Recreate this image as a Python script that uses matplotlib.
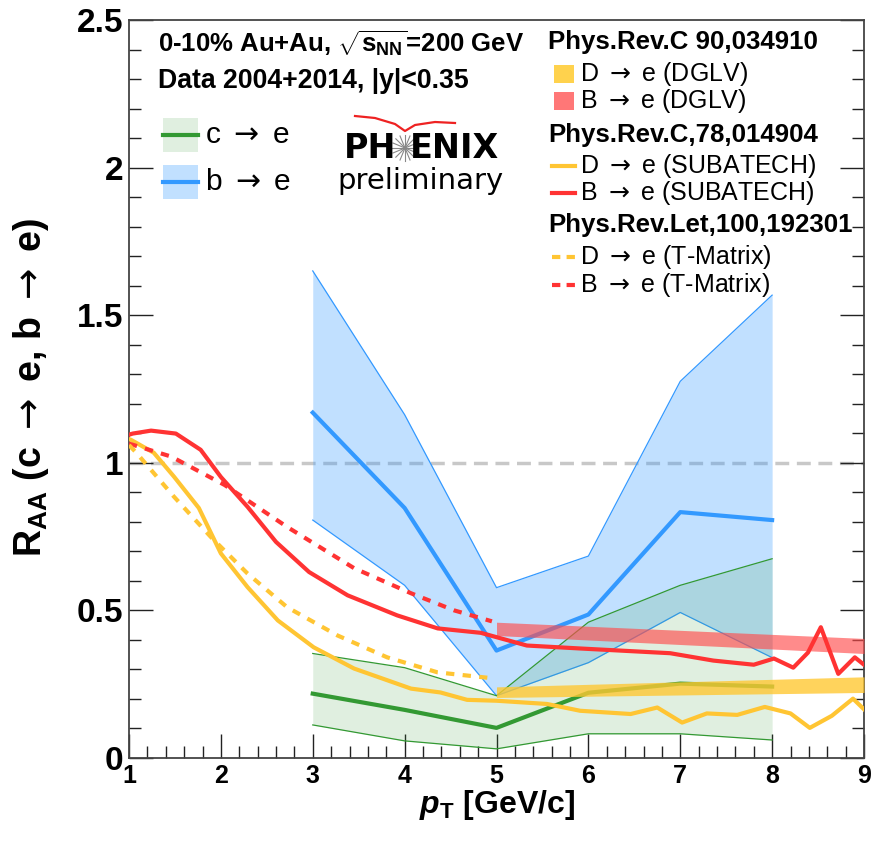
import matplotlib
matplotlib.use('Agg')
import matplotlib.pyplot as plt
import numpy as np
from matplotlib.patches import Rectangle
from matplotlib.lines import Line2D

plt.rcParams['font.family'] = ['Liberation Sans', 'DejaVu Sans']
plt.rcParams['mathtext.fontset'] = 'custom'
plt.rcParams['mathtext.rm'] = 'Liberation Sans'
plt.rcParams['mathtext.bf'] = 'Liberation Sans:bold'
plt.rcParams['mathtext.it'] = 'Liberation Sans:italic:bold'
plt.rcParams['mathtext.sf'] = 'DejaVu Sans'

ARR = r'$\mathsf{\rightarrow}$'

# unfolded data points (pT, central, upper, lower)
pt_data = [3, 4, 5, 6, 7, 8]
c_e = [0.218, 0.163, 0.102, 0.221, 0.252, 0.242]
c_e_hi = [0.354, 0.306, 0.211, 0.46, 0.585, 0.675]
c_e_lo = [0.112, 0.058, 0.031, 0.082, 0.082, 0.061]
b_e = [1.17, 0.847, 0.364, 0.486, 0.833, 0.806]
b_e_hi = [1.65, 1.163, 0.577, 0.684, 1.276, 1.568]
b_e_lo = [0.806, 0.585, 0.211, 0.323, 0.493, 0.34]

# SUBATECH
pt_sub_b = [1.0, 1.04, 1.24, 1.51, 1.78, 2.0, 2.29, 2.6, 2.96, 3.38, 3.92, 4.36, 4.83,
            5.33, 5.91, 6.89, 7.36, 7.8, 8.02, 8.23, 8.39, 8.53, 8.72, 8.9, 9.0]
raa_sub_b = [1.095, 1.099, 1.109, 1.099, 1.044, 0.952, 0.851, 0.732, 0.63, 0.551, 0.483,
             0.439, 0.424, 0.381, 0.371, 0.355, 0.33, 0.316, 0.337, 0.306, 0.357, 0.443,
             0.285, 0.341, 0.316]
pt_sub_d = [1.0, 1.02, 1.27, 1.49, 1.76, 2.0, 2.29, 2.62, 3.01, 3.45, 4.07, 4.39, 4.68,
            5.0, 5.55, 5.91, 6.46, 6.75, 7.02, 7.29, 7.62, 7.92, 8.2, 8.41, 8.65, 8.88, 9.0]
raa_sub_d = [1.08, 1.078, 1.034, 0.953, 0.847, 0.693, 0.579, 0.466, 0.375, 0.303, 0.235,
             0.222, 0.197, 0.194, 0.183, 0.16, 0.149, 0.171, 0.12, 0.151, 0.146, 0.173,
             0.151, 0.102, 0.143, 0.201, 0.165]

# T-Matrix
pt_tm_b = [1.0, 1.46, 2.04, 2.72, 3.45, 4.07, 4.54, 4.95]
raa_tm_b = [1.065, 1.021, 0.925, 0.783, 0.643, 0.558, 0.5, 0.463]
pt_tm_d = [1.0, 1.08, 1.49, 1.89, 2.29, 2.72, 3.27, 3.81, 4.36, 4.9]
raa_tm_d = [1.06, 1.034, 0.885, 0.749, 0.625, 0.511, 0.415, 0.341, 0.29, 0.272]

# DGLV bands (pT, lower, upper)
pt_dglv = [5, 9]
dglv_b_lo = [0.415, 0.354]
dglv_b_hi = [0.46, 0.405]
dglv_d_lo = [0.205, 0.222]
dglv_d_hi = [0.241, 0.275]

blue = '#3399ff'
green = '#339933'
red = '#ff3333'
yellow = '#ffc533'

fig = plt.figure(figsize=(8.72, 8.46), dpi=100)
ax = fig.add_axes([129 / 872, 88 / 846, 735 / 872, 738 / 846])

ax.axhline(1.0, color='#c8c8c8', lw=2.5, dashes=(4, 2.2), zorder=1)

ax.fill_between(pt_data, b_e_lo, b_e_hi, color=blue, alpha=0.3, lw=0, zorder=2)
ax.plot(pt_data, b_e_hi, color=blue, lw=0.9, zorder=2)
ax.plot(pt_data, b_e_lo, color=blue, lw=0.9, zorder=2)
ax.fill_between(pt_data, c_e_lo, c_e_hi, color=green, alpha=0.15, lw=0, zorder=2)
ax.plot(pt_data, c_e_hi, color=green, lw=0.9, zorder=2)
ax.plot(pt_data, c_e_lo, color=green, lw=0.9, zorder=2)
ax.plot(pt_data, b_e, color=blue, lw=3, zorder=3)
ax.plot(pt_data, c_e, color=green, lw=3, zorder=3)

ax.fill_between(pt_dglv, dglv_b_lo, dglv_b_hi, color='#ff4d4d', alpha=0.65, lw=0, zorder=4)
ax.fill_between(pt_dglv, dglv_d_lo, dglv_d_hi, color='#ffc833', alpha=0.8, lw=0, zorder=4)

ax.plot(pt_sub_b, raa_sub_b, color=red, lw=3, zorder=5)
ax.plot(pt_sub_d, raa_sub_d, color=yellow, lw=3, zorder=5)
ax.plot(pt_tm_b, raa_tm_b, color=red, lw=3, dashes=(2, 2), zorder=5)
ax.plot(pt_tm_d, raa_tm_d, color=yellow, lw=3, dashes=(2, 2), zorder=5)

ax.set_xlim(1, 9)
ax.set_ylim(0, 2.5)
ax.set_xticks(np.arange(1, 10, 1))
ax.set_xticks(np.arange(1, 9.01, 0.2), minor=True)
ax.set_yticks(np.arange(0, 2.51, 0.5))
ax.set_yticks(np.arange(0, 2.51, 0.1), minor=True)
ax.set_xticklabels([str(i) for i in range(1, 10)])
ax.set_yticklabels(['0', '0.5', '1', '1.5', '2', '2.5'])
ax.tick_params(which='both', direction='in', left=True, right=True, top=False,
               width=1, color='#222222')
ax.tick_params(axis='x', labelsize=18)
ax.tick_params(axis='y', labelsize=24)
ax.tick_params(which='major', length=17, pad=4)
ax.tick_params(which='minor', length=8.5)
for lab in ax.get_xticklabels() + ax.get_yticklabels():
    lab.set_fontweight('bold')
for sp in ax.spines.values():
    sp.set_color('#444444')
    sp.set_linewidth(1.3)

ax.set_xlabel(r'$p_\mathbf{T}$ [GeV/c]', fontsize=23, fontweight='bold', labelpad=0)
fig.text(31 / 872, 1 - 387 / 846, r'$\mathbf{R_{AA}}$ (c ' + ARR + ' e, b ' + ARR + ' e)',
         rotation=90, fontsize=27, fontweight='bold', ha='center', va='center')

# header text
def px(x, y):
    return x / 872, 1 - y / 846

fig.text(*px(158, 44), r'0-10% Au+Au, $\sqrt{\mathbf{s}_{\mathbf{NN}}}$=200 GeV', fontsize=18.5,
         fontweight='bold', va='center')
fig.text(*px(158, 81), 'Data 2004+2014, |y|<0.35', fontsize=19.2, fontweight='bold', va='center')

# data legend
for yc, col, alp, lab in [(135, green, 0.15, 'c'), (182, blue, 0.3, 'b')]:
    x0, y0 = px(163, yc + 17)
    fig.add_artist(Rectangle((x0, y0), 35 / 872, 34 / 846, transform=fig.transFigure,
                             facecolor=col, alpha=alp, lw=0))
    fig.add_artist(Line2D([163 / 872, 198 / 872], [y0 + 17 / 846] * 2, color=col, lw=3,
                          transform=fig.transFigure))
    fig.text(*px(205, yc), lab + ' ' + ARR + ' e', fontsize=21.5, va='center')

# logo
fig.text(*px(370, 149), 'PH', fontsize=24, fontweight='bold', ha='center', va='center',
         family='DejaVu Sans')
fig.text(*px(454, 149), 'ENIX', fontsize=24, fontweight='bold', ha='center', va='center',
         family='DejaVu Sans')
cx, cy = 405, 148
for ang in np.arange(0, np.pi, np.pi / 8):
    dx, dy = 13 * np.cos(ang), 13 * np.sin(ang)
    fig.add_artist(Line2D([(cx - dx) / 872, (cx + dx) / 872],
                          [1 - (cy - dy) / 846, 1 - (cy + dy) / 846],
                          color='#888888', lw=0.8, transform=fig.transFigure))
arc_x = np.array([355, 375, 395, 405, 415, 435, 455])
arc_y = np.array([116, 118, 124, 131, 125, 122, 123])
fig.add_artist(Line2D(arc_x / 872, 1 - arc_y / 846, color='#ee2222', lw=1.6,
                      transform=fig.transFigure))
fig.text(*px(420, 181), 'preliminary', fontsize=21, ha='center', va='center',
         family='DejaVu Sans')

# model legend
hdr = [(42, 'Phys.Rev.C 90,034910'), (135, 'Phys.Rev.C,78,014904'),
       (225, 'Phys.Rev.Let,100,192301')]
for yc, t in hdr:
    fig.text(*px(548, yc), t, fontsize=18.6, fontweight='bold', va='center')

items = [(74, 'box', '#ffd24d', 'D', 'DGLV'), (101, 'box', '#ff7777', 'B', 'DGLV'),
         (166, 'line', yellow, 'D', 'SUBATECH'), (193, 'line', red, 'B', 'SUBATECH'),
         (257, 'dash', yellow, 'D', 'T-Matrix'), (285, 'dash', red, 'B', 'T-Matrix')]
for yc, kind, col, q, model in items:
    if kind == 'box':
        x0, y0 = px(554, yc + 9)
        fig.add_artist(Rectangle((x0, y0), 20 / 872, 18 / 846, transform=fig.transFigure,
                                 facecolor=col, lw=0))
    else:
        kw = dict(dashes=(2, 1.5)) if kind == 'dash' else {}
        fig.add_artist(Line2D([552 / 872, 575 / 872], [1 - yc / 846] * 2, color=col, lw=3,
                              transform=fig.transFigure, **kw))
    fig.text(*px(580, yc), q + ' ' + ARR + ' e (' + model + ')', fontsize=18, va='center')

fig.savefig('out.png', dpi=100)
